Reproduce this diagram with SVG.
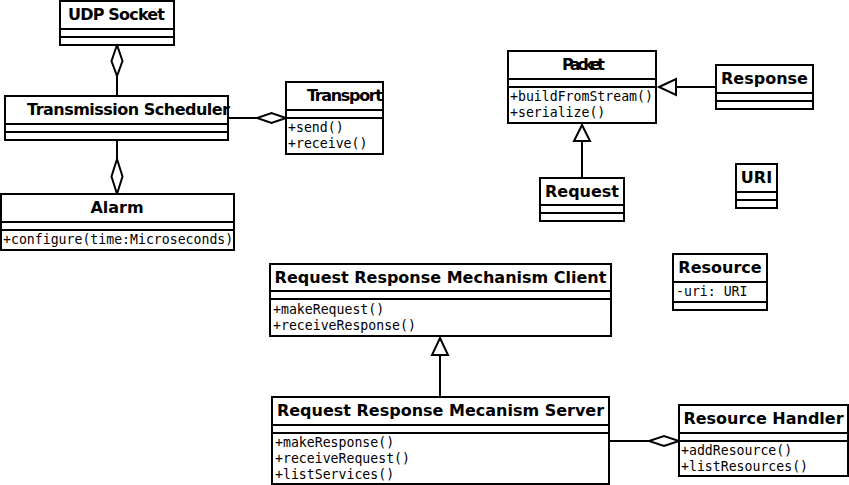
<svg xmlns="http://www.w3.org/2000/svg" width="849" height="485" viewBox="0 0 849 485">
<style>
rect,line,polygon,path{stroke:#000;stroke-width:2;}
rect{fill:#fff;}
.t{font-family:"DejaVu Sans",sans-serif;font-weight:bold;font-size:16px;text-anchor:middle;fill:#000;}
.s{text-anchor:start;}
.m{font-family:"DejaVu Sans Mono",monospace;font-size:13.2px;fill:#000;}
.d{fill:#fff;}
.g{fill:#fff;}
</style>
<rect x="0" y="0" width="849" height="485" style="fill:#fff;stroke:none"/>
<g id="connectors">
  <line x1="117" y1="76" x2="117" y2="96"/>
  <polygon class="d" points="117,45 122.5,61 117,76 111.5,61"/>
  <line x1="228" y1="118" x2="257" y2="118"/>
  <polygon class="d" points="286,118 271.5,123 257,118 271.5,113"/>
  <path d="M117,140 L117,159" fill="none"/>
  <polygon class="d" points="117,194 122.5,176.5 117,159 111.5,176.5"/>
  <line x1="716" y1="87" x2="676" y2="87"/>
  <polygon class="g" points="659,87 676,79 676,95"/>
  <line x1="582" y1="178" x2="582" y2="141"/>
  <polygon class="g" points="582,125 590,141 574,141"/>
  <line x1="440" y1="397" x2="440" y2="355"/>
  <polygon class="g" points="440,338 448,355 432,355"/>
  <line x1="609" y1="441" x2="649" y2="441"/>
  <polygon class="d" points="679,441 664,446 649,441 664,436"/>
</g>
<g id="udp-socket">
  <rect x="60" y="1" width="114" height="44"/>
  <line x1="60" y1="29" x2="174" y2="29"/><line x1="60" y1="37" x2="174" y2="37"/>
  <text class="t s" x="68" y="20" textLength="97">UDP Socket</text>
</g>
<g id="transmission-scheduler">
  <rect x="5" y="96" width="223" height="44"/>
  <line x1="5" y1="124" x2="228" y2="124"/><line x1="5" y1="132" x2="228" y2="132"/>
  <text class="t s" x="27" y="115" textLength="203">Transmission Scheduler</text>
</g>
<g id="transport">
  <rect x="286" y="82" width="97" height="72"/>
  <line x1="286" y1="110" x2="383" y2="110"/><line x1="286" y1="118" x2="383" y2="118"/>
  <text class="t s" x="307" y="101" textLength="76">Transport</text>
  <text class="m" x="288" y="132">+send()</text>
  <text class="m" x="288" y="148">+receive()</text>
</g>
<g id="alarm">
  <rect x="1" y="194" width="233" height="56"/>
  <line x1="1" y1="222" x2="234" y2="222"/><line x1="1" y1="230" x2="234" y2="230"/>
  <text class="t" x="117" y="213">Alarm</text>
  <text class="m" x="3" y="244">+configure(time:Microseconds)</text>
</g>
<g id="packet">
  <rect x="508" y="51" width="148" height="72"/>
  <line x1="508" y1="79" x2="656" y2="79"/><line x1="508" y1="87" x2="656" y2="87"/>
  <text class="t s" x="562" y="70" textLength="43">Packet</text>
  <text class="m" x="510" y="101">+buildFromStream()</text>
  <text class="m" x="510" y="117">+serialize()</text>
</g>
<g id="response">
  <rect x="716" y="65" width="97" height="44"/>
  <line x1="716" y1="93" x2="813" y2="93"/><line x1="716" y1="101" x2="813" y2="101"/>
  <text class="t" x="764.5" y="84">Response</text>
</g>
<g id="request">
  <rect x="540" y="178" width="84" height="43"/>
  <line x1="540" y1="205" x2="624" y2="205"/><line x1="540" y1="213" x2="624" y2="213"/>
  <text class="t" x="582" y="197">Request</text>
</g>
<g id="uri">
  <rect x="736" y="164" width="41" height="44"/>
  <line x1="736" y1="192" x2="777" y2="192"/><line x1="736" y1="200" x2="777" y2="200"/>
  <text class="t" x="756.5" y="183">URI</text>
</g>
<g id="resource">
  <rect x="673" y="254" width="94" height="56"/>
  <line x1="673" y1="282" x2="767" y2="282"/><line x1="673" y1="302" x2="767" y2="302"/>
  <text class="t" x="720" y="273">Resource</text>
  <text class="m" x="676" y="296">-uri: URI</text>
</g>
<g id="rrm-client">
  <rect x="270" y="264" width="341" height="72"/>
  <line x1="270" y1="291" x2="611" y2="291"/><line x1="270" y1="299" x2="611" y2="299"/>
  <text class="t" x="440.5" y="283">Request Response Mechanism Client</text>
  <text class="m" x="273" y="314">+makeRequest()</text>
  <text class="m" x="273" y="330">+receiveResponse()</text>
</g>
<g id="rrm-server">
  <rect x="272" y="397" width="337" height="87"/>
  <line x1="272" y1="425" x2="609" y2="425"/><line x1="272" y1="433" x2="609" y2="433"/>
  <text class="t" x="440.5" y="416">Request Response Mecanism Server</text>
  <text class="m" x="275" y="447">+makeResponse()</text>
  <text class="m" x="275" y="463">+receiveRequest()</text>
  <text class="m" x="275" y="479">+listServices()</text>
</g>
<g id="resource-handler">
  <rect x="679" y="405" width="169" height="71"/>
  <line x1="679" y1="433" x2="848" y2="433"/><line x1="679" y1="441" x2="848" y2="441"/>
  <text class="t" x="763.5" y="424">Resource Handler</text>
  <text class="m" x="681" y="455">+addResource()</text>
  <text class="m" x="681" y="471">+listResources()</text>
</g>
</svg>
